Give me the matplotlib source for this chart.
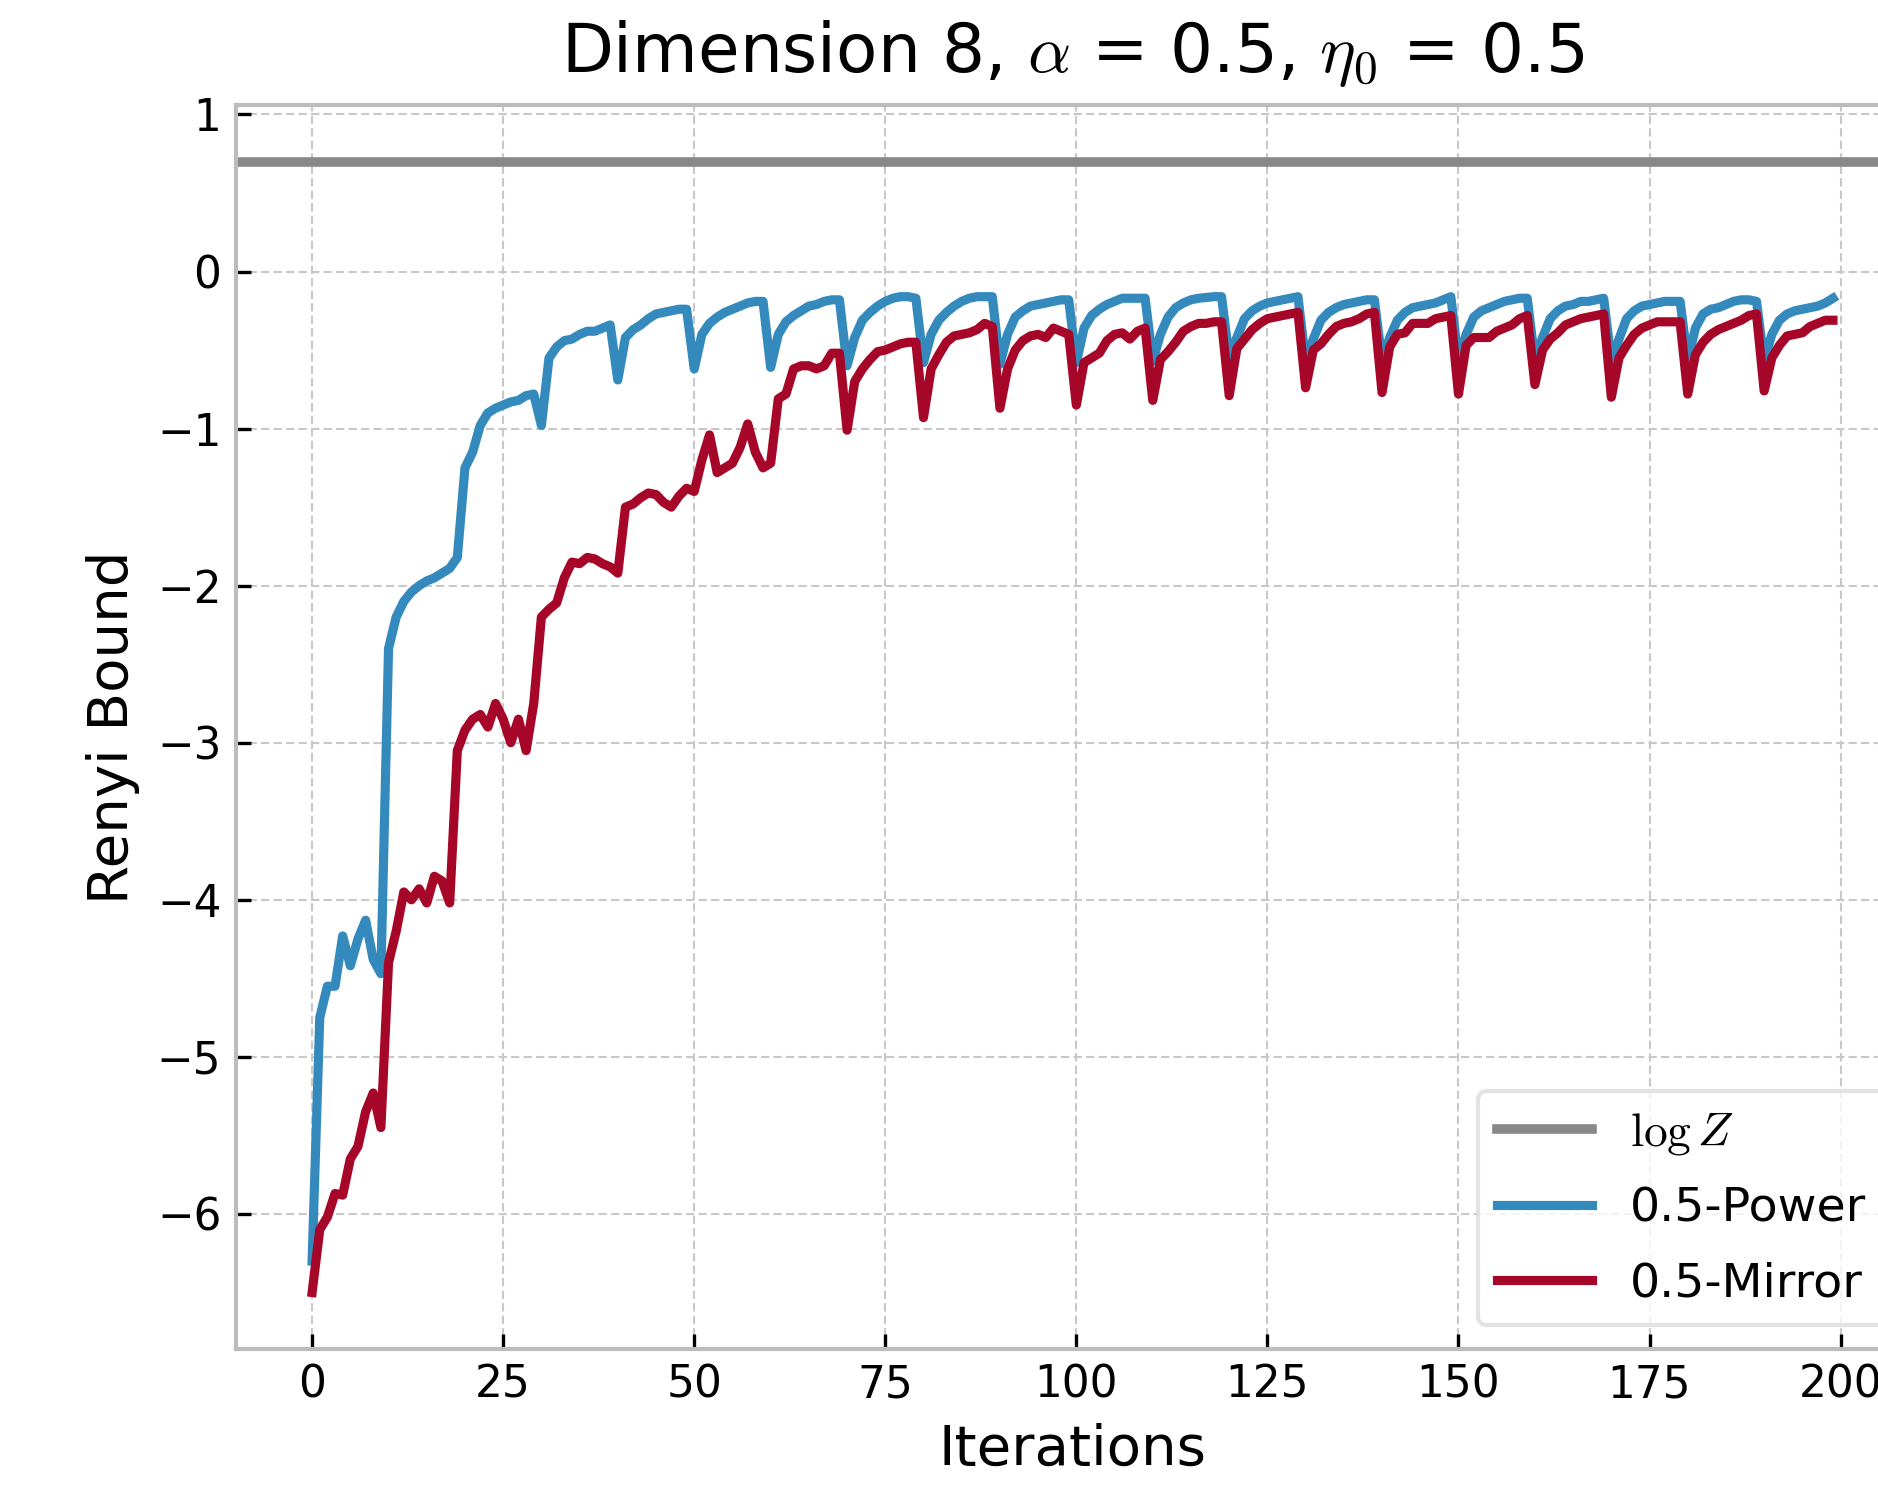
import numpy as np
import matplotlib
matplotlib.use('Agg')
import matplotlib.pyplot as plt


### Values
iterations = list(range(200))

logZ = 0.70

powerBound = [
	-6.30, -4.75, -4.55, -4.55, -4.23, -4.42, -4.25, -4.13, -4.38, -4.47,
	-2.40, -2.20, -2.10, -2.04, -2.00, -1.97, -1.95, -1.92, -1.89, -1.82,
	-1.25, -1.15, -0.98, -0.90, -0.87, -0.85, -0.83, -0.82, -0.79, -0.78,
	-0.98, -0.55, -0.48, -0.44, -0.43, -0.40, -0.38, -0.38, -0.36, -0.34,
	-0.69, -0.42, -0.37, -0.34, -0.30, -0.27, -0.26, -0.25, -0.24, -0.24,
	-0.62, -0.40, -0.33, -0.29, -0.26, -0.24, -0.22, -0.20, -0.19, -0.19,
	-0.61, -0.40, -0.32, -0.28, -0.25, -0.22, -0.21, -0.19, -0.18, -0.18,
	-0.60, -0.42, -0.31, -0.26, -0.22, -0.19, -0.17, -0.16, -0.16, -0.17,
	-0.58, -0.40, -0.31, -0.26, -0.22, -0.19, -0.17, -0.16, -0.16, -0.16,
	-0.59, -0.40, -0.29, -0.25, -0.22, -0.21, -0.20, -0.19, -0.18, -0.18,
	-0.58, -0.36, -0.28, -0.24, -0.21, -0.19, -0.17, -0.17, -0.17, -0.17,
	-0.57, -0.40, -0.29, -0.23, -0.20, -0.18, -0.17, -0.165, -0.16, -0.16,
	-0.55, -0.42, -0.30, -0.25, -0.22, -0.20, -0.19, -0.18, -0.17, -0.16,
	-0.57, -0.43, -0.31, -0.26, -0.23, -0.21, -0.20, -0.19, -0.18, -0.18,
	-0.57, -0.42, -0.31, -0.26, -0.23, -0.22, -0.21, -0.20, -0.18, -0.16,
	-0.57, -0.40, -0.29, -0.25, -0.23, -0.21, -0.19, -0.18, -0.17, -0.17,
	-0.57, -0.42, -0.30, -0.25, -0.22, -0.21, -0.19, -0.19, -0.18, -0.17,
	-0.57, -0.43, -0.30, -0.25, -0.22, -0.21, -0.20, -0.19, -0.19, -0.19,
	-0.57, -0.36, -0.27, -0.24, -0.23, -0.21, -0.19, -0.18, -0.18, -0.19,
	-0.57, -0.40, -0.31, -0.27, -0.25, -0.24, -0.23, -0.22, -0.20, -0.17,
]

mirrorBound = [
	-6.50, -6.10, -6.02, -5.87, -5.88, -5.65, -5.57, -5.35, -5.23, -5.45,
	-4.40, -4.20, -3.95, -4.00, -3.93, -4.02, -3.85, -3.88, -4.02, -3.05,
	-2.92, -2.85, -2.82, -2.90, -2.75, -2.85, -3.00, -2.85, -3.05, -2.75,
	-2.20, -2.15, -2.11, -1.95, -1.85, -1.86, -1.82, -1.83, -1.86, -1.88,
	-1.92, -1.50, -1.48, -1.44, -1.41, -1.42, -1.47, -1.50, -1.43, -1.38,
	-1.40, -1.20, -1.04, -1.28, -1.25, -1.22, -1.12, -0.97, -1.15, -1.25,
	-1.22, -0.81, -0.78, -0.62, -0.60, -0.60, -0.62, -0.60, -0.52, -0.52,
	-1.01, -0.70, -0.62, -0.56, -0.51, -0.50, -0.48, -0.46, -0.45, -0.45,
	-0.93, -0.62, -0.53, -0.45, -0.41, -0.40, -0.39, -0.37, -0.33, -0.35,
	-0.87, -0.62, -0.50, -0.44, -0.41, -0.40, -0.42, -0.36, -0.38, -0.40,
	-0.85, -0.58, -0.55, -0.52, -0.44, -0.40, -0.39, -0.43, -0.38, -0.36,
	-0.82, -0.56, -0.51, -0.45, -0.38, -0.35, -0.33, -0.33, -0.32, -0.32,
	-0.79, -0.49, -0.43, -0.37, -0.33, -0.30, -0.29, -0.28, -0.27, -0.26,
	-0.74, -0.50, -0.46, -0.40, -0.35, -0.33, -0.32, -0.30, -0.27, -0.26,
	-0.77, -0.48, -0.40, -0.39, -0.33, -0.33, -0.33, -0.30, -0.29, -0.28,
	-0.78, -0.47, -0.42, -0.42, -0.42, -0.38, -0.36, -0.34, -0.30, -0.28,
	-0.72, -0.50, -0.43, -0.39, -0.34, -0.32, -0.30, -0.29, -0.28, -0.27,
	-0.80, -0.55, -0.47, -0.40, -0.36, -0.34, -0.32, -0.32, -0.32, -0.32,
	-0.78, -0.53, -0.45, -0.40, -0.37, -0.35, -0.33, -0.31, -0.28, -0.27,
	-0.76, -0.55, -0.47, -0.41, -0.40, -0.39, -0.35, -0.33, -0.31, -0.31,
]

xTicks = [0, 25, 50, 75, 100, 125, 150, 175, 200]
yTicks = [-6, -5, -4, -3, -2, -1, 0, 1]


def makePlot():
	plt.rcParams['font.family'] = ['DejaVu Sans']
	plt.rcParams['mathtext.fontset'] = 'cm'

	fig = plt.figure(figsize=(6.26, 4.96), dpi=300)
	### axes runs a bit past the right edge, like in the reference
	ax = fig.add_axes([0.1257, 0.0934, 0.8908, 0.836])

	ax.axhline(logZ, color='#888888', lw=2.3, label=r'$\log Z$')
	ax.plot(iterations, powerBound, color='#348ABD', lw=2.2, label='0.5-Power')
	ax.plot(iterations, mirrorBound, color='#A60628', lw=2.2, label='0.5-Mirror')

	ax.set_xlim(-9.95, 208.95)
	ax.set_ylim(-6.86, 1.06)
	ax.set_xticks(xTicks)
	ax.set_yticks(yTicks)

	ax.grid(True, color='#c8c8c8', linestyle=(0, (4, 2)), lw=0.5)
	ax.set_axisbelow(True)
	for side in ax.spines.values():
		side.set_color('#bcbcbc')
		side.set_linewidth(1.0)
	ax.tick_params(direction='in', length=3.6, width=0.8, labelsize=10.5,
		color='black', top=False, right=False)

	ax.set_xlabel('Iterations', fontsize=13.5)
	ax.set_ylabel('Renyi Bound', fontsize=13.5)
	ax.set_title(r'Dimension 8, $\alpha$ = 0.5, $\eta_0$ = 0.5', fontsize=16.2, pad=8)

	leg = ax.legend(loc='lower right', fontsize=11.4, handlelength=2.0,
		labelspacing=0.62, fancybox=True, framealpha=0.8)
	leg.get_frame().set_edgecolor('#dddddd')

	fig.savefig('out.png', dpi=300)


if __name__ == "__main__":
	makePlot()
